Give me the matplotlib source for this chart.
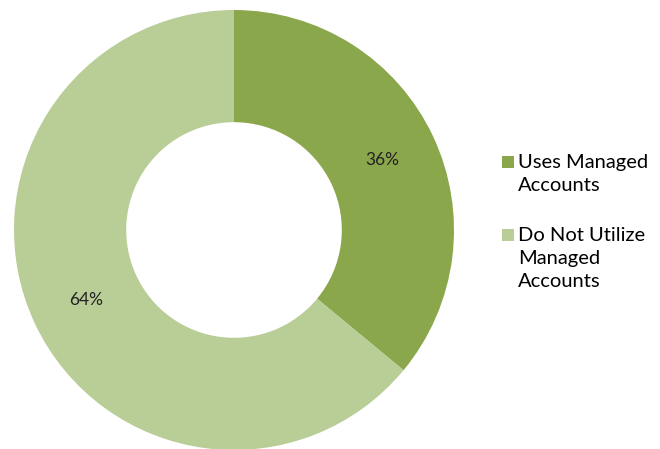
import matplotlib
matplotlib.use('agg')
import matplotlib.pyplot as plt
from matplotlib.lines import Line2D

labels = ['Uses Managed\nAccounts', 'Do Not Utilize\nManaged\nAccounts']
values = [36, 64]
colors = ['#8BA74C', '#B9CD97']

plt.rcParams['font.family'] = ['Lato', 'DejaVu Sans']

fig = plt.figure(figsize=(6.6, 4.49), dpi=100)
ax = fig.add_axes([14/660, -1/449, 440/660, 440/449])

wedges, texts, autotexts = ax.pie(values, colors=colors, startangle=90, counterclock=False,
                                  autopct='%d%%', pctdistance=0.745,
                                  wedgeprops=dict(width=0.51, edgecolor='none'),
                                  textprops=dict(fontsize=12.5, color='#222222'))
ax.set_xlim(-1, 1)
ax.set_ylim(-1, 1)
ax.set_aspect('equal')

handles = [Line2D([], [], marker='s', linestyle='none', markersize=8,
                  markerfacecolor=c, markeredgewidth=0) for c in colors]
leg = fig.legend(handles, labels, loc='upper left', bbox_to_anchor=(484/660, 1 - 136/449),
                 frameon=False, fontsize=14.5, handlelength=0.55, handleheight=1.0,
                 numpoints=1, handletextpad=0.25, labelspacing=1.65)
for t in leg.get_texts():
    t.set_linespacing(1.42)
# put the square next to the first line of each label
for col in leg._legend_handle_box.get_children():
    for item in col.get_children():
        item.align = 'top'

fig.savefig('out.png', dpi=100)
